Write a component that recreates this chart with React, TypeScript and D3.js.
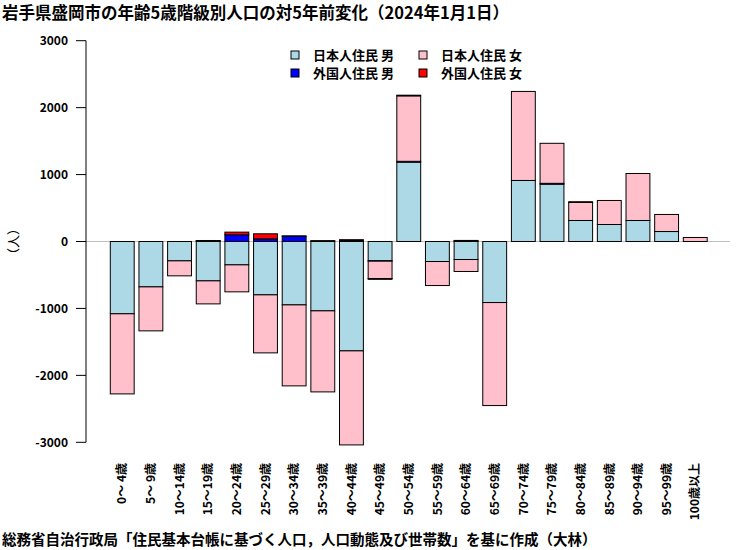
import React from "react";
import * as d3 from "d3";

const categories = [
  "0～ 4歳", "5～ 9歳", "10～14歳", "15～19歳", "20～24歳", "25～29歳", "30～34歳",
  "35～39歳", "40～44歳", "45～49歳", "50～54歳", "55～59歳", "60～64歳", "65～69歳",
  "70～74歳", "75～79歳", "80～84歳", "85～89歳", "90～94歳", "95～99歳", "100歳以上",
];
// 日本人住民 男
const jpMale = [-1080, -678, -289, -588, -349, -797, -947, -1036, -1634, -289, 1186, -299, -269, -912, 912, 857, 314, 254, 314, 149, 0];
// 外国人住民 男
const fgMale = [0, 0, 0, 12, 100, 40, 75, 8, 15, -5, 12, 0, 10, 0, 0, 12, 0, 0, 0, 0, 0];
// 日本人住民 女
const jpFemale = [-1197, -657, -224, -344, -403, -867, -1210, -1211, -1405, -259, 978, -359, -179, -1539, 1330, 598, 270, 359, 702, 255, 60];
// 外国人住民 女
const fgFemale = [0, 0, 0, 3, 40, 75, 10, 4, 12, -12, 10, 0, 6, 0, 0, 0, 10, 0, 0, 0, 0];

const seriesNames = ["日本人住民 男", "外国人住民 男", "日本人住民 女", "外国人住民 女"];
const seriesColors = ["#add8e6", "#0000ff", "#ffc0cb", "#ff0000"];
const yTicks = [-3000, -2000, -1000, 0, 1000, 2000, 3000];

const title = "岩手県盛岡市の年齢5歳階級別人口の対5年前変化（2024年1月1日）";
const caption = "総務省自治行政局「住民基本台帳に基づく人口，人口動態及び世帯数」を基に作成（大林）";
const yLabel = "（人）";

const FONT = "'Noto Sans CJK JP', 'Noto Sans', sans-serif";

export default function App() {
  const W = 750, H = 550;
  const y = d3.scaleLinear().domain([-3000, 3000]).range([442.3, 40.7]);
  const x = d3.scaleBand<string>().domain(categories).range([110.3, 707.2]).paddingInner(1 / 6).paddingOuter(0);
  const series = [jpMale, fgMale, jpFemale, fgFemale];

  const rects: JSX.Element[] = [];
  categories.forEach((c, i) => {
    let pos = 0, neg = 0;
    series.forEach((s, k) => {
      const v = s[i];
      if (v === 0) return;
      let a: number, b: number;
      if (v > 0) { a = pos; b = pos + v; pos = b; } else { a = neg; b = neg + v; neg = b; }
      const y1 = y(Math.max(a, b)), y2 = y(Math.min(a, b));
      rects.push(
        <rect key={`${i}-${k}`} x={x(c)!} y={y1} width={x.bandwidth()} height={Math.max(y2 - y1, 0)}
          fill={seriesColors[k]} stroke="#000" strokeWidth={1} />
      );
    });
  });

  const legendPos = [
    { x: 291, y: 55 }, { x: 291, y: 73 }, { x: 419, y: 55 }, { x: 419, y: 73 },
  ];

  return (
    <svg width={W} height={H} style={{ position: "absolute", left: 0, top: 0 }} fontFamily={FONT}>
      <rect x={0} y={0} width={W} height={H} fill="#fff" />
      <text x={2} y={18.5} fontSize={16.5} fontWeight="bold">{title}</text>
      <line x1={86} x2={730} y1={y(0)} y2={y(0)} stroke="#bebebe" strokeWidth={1} />
      {rects}
      <line x1={86} x2={86} y1={y(-3000)} y2={y(3000)} stroke="#000" strokeWidth={1} />
      {yTicks.map((t) => (
        <g key={t}>
          <line x1={76} x2={86} y1={y(t)} y2={y(t)} stroke="#000" />
          <text x={68} y={y(t)} dy="0.35em" textAnchor="end" fontSize={12} fontWeight="bold">{t}</text>
        </g>
      ))}
      <text transform={`translate(13,${y(0)}) rotate(-90)`} textAnchor="middle" dy="0.35em" fontSize={13}>{yLabel}</text>
      {categories.map((c) => (
        <text key={c} transform={`translate(${x(c)! + x.bandwidth() / 2},463) rotate(-90)`} textAnchor="end" dy="0.35em" fontSize={12} fontWeight="bold">{c}</text>
      ))}
      {seriesNames.map((n, k) => (
        <g key={n}>
          <rect x={legendPos[k].x} y={legendPos[k].y - 4} width={8} height={8} fill={seriesColors[k]} stroke="#000" />
          <text x={legendPos[k].x + 22} y={legendPos[k].y} dy="0.35em" fontSize={13} fontWeight="bold">{n}</text>
        </g>
      ))}
      <text x={2} y={545} fontSize={14.5} fontWeight="bold">{caption}</text>
    </svg>
  );
}
